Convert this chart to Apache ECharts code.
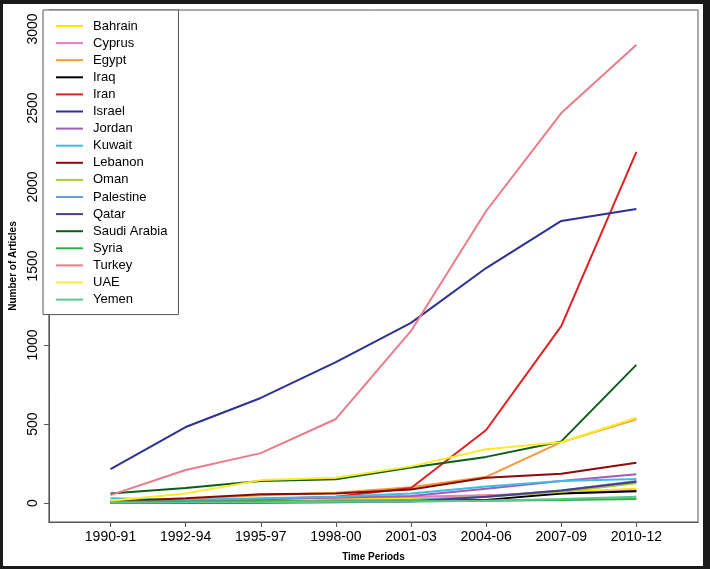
<!DOCTYPE html>
<html>
<head>
<meta charset="utf-8">
<script src="https://cdn.jsdelivr.net/npm/echarts@6/dist/echarts.min.js"></script>
<style>
html,body{margin:0;padding:0;background:#fff;}
#c{width:710px;height:569px;}
</style>
</head>
<body>
<div id="c"></div>
<script>
const periods = ['1990-91','1992-94','1995-97','1998-00','2001-03','2004-06','2007-09','2010-12'];
const yTicks = [0,500,1000,1500,2000,2500,3000];

const countries = ['Bahrain','Cyprus','Egypt','Iraq','Iran','Israel','Jordan','Kuwait','Lebanon','Oman','Palestine','Qatar','Saudi Arabia','Syria','Turkey','UAE','Yemen'];
const colors = ['#ffe600','#e67bc0','#f59a3a','#000000','#e02020','#2e3192','#a05cc0','#3cbde0','#8b0a0a','#a8cc3a','#6a9bd1','#4f3a88','#0a5e1a','#2db040','#ec7b8a','#ffea2a','#5ec490'];

const bahrain   = [10, 15, 20, 25, 30, 50, 70, 90];
const cyprus    = [10, 15, 25, 35, 40, 50, 60, 80];
const egypt     = [5, 25, 50, 65, 100, 166, 385, 530];
const iraq      = [5, 5, 10, 15, 15, 20, 60, 75];
const iran      = [5, 15, 25, 40, 95, 462, 1120, 2222];
const israel    = [215, 481, 665, 892, 1140, 1487, 1785, 1861];
const jordan    = [5, 15, 25, 35, 45, 90, 140, 182];
const kuwait    = [30, 20, 30, 40, 60, 105, 140, 152];
const lebanon   = [10, 30, 55, 60, 85, 160, 185, 255];
const oman      = [2, 5, 10, 15, 20, 40, 70, 125];
const palestine = [0, 0, 5, 10, 20, 40, 80, 140];
const qatar     = [0, 0, 2, 5, 10, 40, 80, 135];
const saudi     = [60, 95, 140, 150, 225, 292, 390, 874];
const syria     = [10, 10, 10, 10, 12, 15, 20, 25];
const turkey    = [50, 209, 316, 532, 1089, 1848, 2468, 2900];
const uae       = [15, 60, 145, 160, 232, 340, 385, 540];
const yemen     = [2, 3, 5, 8, 10, 15, 25, 40];

const values = [bahrain, cyprus, egypt, iraq, iran, israel, jordan, kuwait, lebanon, oman, palestine, qatar, saudi, syria, turkey, uae, yemen];

const font = 'Liberation Sans, Arial, sans-serif';
const axisGray = '#555';

const series = countries.map((name, i) => ({
  name: name,
  type: 'line',
  symbol: 'none',
  data: values[i].map((v, j) => [j + 1, v]),
  lineStyle: { width: 2, color: colors[i] },
  itemStyle: { color: colors[i] },
  animation: false
}));

const chart = echarts.init(document.getElementById('c'), null, { renderer: 'canvas' });
chart.setOption({
  backgroundColor: '#fff',
  animation: false,
  grid: { left: 43, top: 10, right: 12, bottom: 47, show: true, borderColor: axisGray, borderWidth: 1, backgroundColor: 'transparent' },
  legend: {
    orient: 'vertical',
    left: 43, top: 10,
    padding: [9, 11, 8, 12],
    itemWidth: 27, itemHeight: 14, itemGap: 3.1,
    borderColor: axisGray, borderWidth: 1,
    backgroundColor: '#fff',
    data: countries,
    itemStyle: { opacity: 0 },
    lineStyle: { width: 2 },
    textStyle: { fontFamily: font, fontSize: 13, color: '#000', lineHeight: 14, padding: [0, 0, 0, 5] }
  },
  xAxis: {
    type: 'value', min: 0.18, max: 8.82,
    name: 'Time Periods', nameLocation: 'middle', nameGap: 30,
    nameTextStyle: { fontFamily: font, fontSize: 10, fontWeight: 'bold', color: '#000' },
    axisLine: { show: true, onZero: false, lineStyle: { color: axisGray } },
    axisTick: { show: true, length: 5, customValues: [1,2,3,4,5,6,7,8], lineStyle: { color: axisGray } },
    axisLabel: { customValues: [1,2,3,4,5,6,7,8], formatter: v => periods[Math.round(v) - 1], fontFamily: font, fontSize: 14, color: '#000', margin: 8 },
    splitLine: { show: false }
  },
  yAxis: {
    type: 'value', min: -120, max: 3120,
    name: 'Number of Articles', nameLocation: 'middle', nameGap: 30, nameRotate: 90,
    nameTextStyle: { fontFamily: font, fontSize: 10, fontWeight: 'bold', color: '#000' },
    axisLine: { show: true, onZero: false, lineStyle: { color: axisGray } },
    axisTick: { show: true, length: 5, customValues: yTicks, lineStyle: { color: axisGray } },
    axisLabel: { customValues: yTicks, formatter: v => String(v), rotate: 90, fontFamily: font, fontSize: 14, color: '#000', margin: 9 },
    splitLine: { show: false }
  },
  graphic: [
    { type: 'rect', shape: { x: 0, y: 0, width: 710, height: 4 }, style: { fill: '#1a1a1a' }, z: 100 },
    { type: 'rect', shape: { x: 0, y: 566, width: 710, height: 3 }, style: { fill: '#1a1a1a' }, z: 100 },
    { type: 'rect', shape: { x: 0, y: 0, width: 3, height: 569 }, style: { fill: '#1a1a1a' }, z: 100 },
    { type: 'rect', shape: { x: 703, y: 0, width: 7, height: 569 }, style: { fill: '#1a1a1a' }, z: 100 }
  ],
  series: series
});
</script>
</body>
</html>
